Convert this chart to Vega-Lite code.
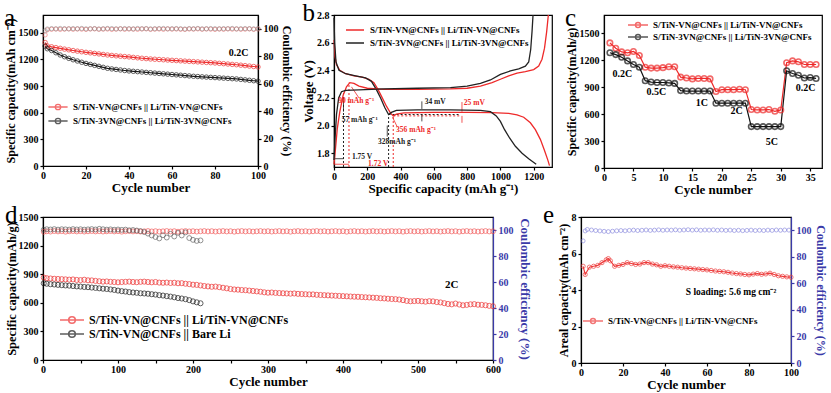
{
"$schema":"https://vega.github.io/schema/vega-lite/v6.json",
"background":"white",
"padding":{"left":3,"top":0,"right":0,"bottom":0},
"config":{
 "font":"Liberation Serif",
 "view":{"stroke":"black","strokeWidth":1.2},
 "axis":{"grid":false,"domainColor":"black","domainWidth":1.2,"tickColor":"black","tickWidth":1.2,"tickSize":3,"labelFont":"Liberation Serif","labelFontWeight":"bold","labelFontSize":10,"labelColor":"black","titleFont":"Liberation Serif","titleFontWeight":"bold","titleFontSize":13,"titleColor":"black","labelOverlap":false,"labelFlush":false},
 "axisX":{"labelPadding":1,"titlePadding":1},
 "axisY":{"labelPadding":2,"titlePadding":1},
 "legend":{"labelFont":"Liberation Serif","labelFontWeight":"bold","labelFontSize":9,"labelColor":"black","orient":"none","symbolFillColor":"white","labelLimit":400,"padding":0},
 "title":{"font":"Liberation Serif","fontSize":25,"fontWeight":"normal","anchor":"start","frame":"bounds","color":"black"}
},
"datasets":{
 "aCap":[
  {"s":"VN","c":1,"v":1390},{"s":"VN","c":2,"v":1352},{"s":"VN","c":4,"v":1342},{"s":"VN","c":6,"v":1333},{"s":"VN","c":8,"v":1325},{"s":"VN","c":10,"v":1316},{"s":"VN","c":12,"v":1308},{"s":"VN","c":14,"v":1300},{"s":"VN","c":16,"v":1293},{"s":"VN","c":18,"v":1286},{"s":"VN","c":20,"v":1280},{"s":"VN","c":22,"v":1274},{"s":"VN","c":24,"v":1268},{"s":"VN","c":26,"v":1262},{"s":"VN","c":28,"v":1256},{"s":"VN","c":30,"v":1250},{"s":"VN","c":32,"v":1245},{"s":"VN","c":34,"v":1240},{"s":"VN","c":36,"v":1236},{"s":"VN","c":38,"v":1232},{"s":"VN","c":40,"v":1228},{"s":"VN","c":42,"v":1223},{"s":"VN","c":44,"v":1218},{"s":"VN","c":46,"v":1213},{"s":"VN","c":48,"v":1209},{"s":"VN","c":50,"v":1205},{"s":"VN","c":52,"v":1202},{"s":"VN","c":54,"v":1199},{"s":"VN","c":56,"v":1196},{"s":"VN","c":58,"v":1193},{"s":"VN","c":60,"v":1190},{"s":"VN","c":62,"v":1187},{"s":"VN","c":64,"v":1184},{"s":"VN","c":66,"v":1181},{"s":"VN","c":68,"v":1178},{"s":"VN","c":70,"v":1175},{"s":"VN","c":72,"v":1172},{"s":"VN","c":74,"v":1169},{"s":"VN","c":76,"v":1166},{"s":"VN","c":78,"v":1163},{"s":"VN","c":80,"v":1160},{"s":"VN","c":82,"v":1156},{"s":"VN","c":84,"v":1152},{"s":"VN","c":86,"v":1148},{"s":"VN","c":88,"v":1144},{"s":"VN","c":90,"v":1140},{"s":"VN","c":92,"v":1135},{"s":"VN","c":94,"v":1130},{"s":"VN","c":96,"v":1125},{"s":"VN","c":98,"v":1120},{"s":"VN","c":100,"v":1115},
  {"s":"3VN","c":1,"v":1350},{"s":"3VN","c":2,"v":1320},{"s":"3VN","c":4,"v":1300},{"s":"3VN","c":6,"v":1275},{"s":"3VN","c":8,"v":1250},{"s":"3VN","c":10,"v":1230},{"s":"3VN","c":12,"v":1212},{"s":"3VN","c":14,"v":1196},{"s":"3VN","c":16,"v":1182},{"s":"3VN","c":18,"v":1168},{"s":"3VN","c":20,"v":1155},{"s":"3VN","c":22,"v":1144},{"s":"3VN","c":24,"v":1133},{"s":"3VN","c":26,"v":1122},{"s":"3VN","c":28,"v":1111},{"s":"3VN","c":30,"v":1100},{"s":"3VN","c":32,"v":1093},{"s":"3VN","c":34,"v":1087},{"s":"3VN","c":36,"v":1081},{"s":"3VN","c":38,"v":1075},{"s":"3VN","c":40,"v":1070},{"s":"3VN","c":42,"v":1066},{"s":"3VN","c":44,"v":1062},{"s":"3VN","c":46,"v":1058},{"s":"3VN","c":48,"v":1054},{"s":"3VN","c":50,"v":1050},{"s":"3VN","c":52,"v":1046},{"s":"3VN","c":54,"v":1042},{"s":"3VN","c":56,"v":1038},{"s":"3VN","c":58,"v":1034},{"s":"3VN","c":60,"v":1030},{"s":"3VN","c":62,"v":1026},{"s":"3VN","c":64,"v":1022},{"s":"3VN","c":66,"v":1018},{"s":"3VN","c":68,"v":1014},{"s":"3VN","c":70,"v":1010},{"s":"3VN","c":72,"v":1007},{"s":"3VN","c":74,"v":1004},{"s":"3VN","c":76,"v":1001},{"s":"3VN","c":78,"v":998},{"s":"3VN","c":80,"v":995},{"s":"3VN","c":82,"v":992},{"s":"3VN","c":84,"v":989},{"s":"3VN","c":86,"v":986},{"s":"3VN","c":88,"v":983},{"s":"3VN","c":90,"v":980},{"s":"3VN","c":92,"v":975},{"s":"3VN","c":94,"v":970},{"s":"3VN","c":96,"v":965},{"s":"3VN","c":98,"v":960},{"s":"3VN","c":100,"v":955}
 ],
 "aCE":[
  {"s":"VN","c":1,"v":95.5},{"s":"VN","c":2,"v":99.2},{"s":"VN","c":4,"v":99.6},{"s":"VN","c":6,"v":99.8},{"s":"VN","c":8,"v":99.5},{"s":"VN","c":10,"v":99.7},{"s":"VN","c":12,"v":99.9},{"s":"VN","c":14,"v":99.6},{"s":"VN","c":16,"v":99.8},{"s":"VN","c":18,"v":99.7},{"s":"VN","c":20,"v":99.5},{"s":"VN","c":22,"v":99.8},{"s":"VN","c":24,"v":99.9},{"s":"VN","c":26,"v":99.6},{"s":"VN","c":28,"v":99.7},{"s":"VN","c":30,"v":99.8},{"s":"VN","c":32,"v":99.5},{"s":"VN","c":34,"v":99.7},{"s":"VN","c":36,"v":99.9},{"s":"VN","c":38,"v":99.6},{"s":"VN","c":40,"v":99.8},{"s":"VN","c":42,"v":99.7},{"s":"VN","c":44,"v":99.6},{"s":"VN","c":46,"v":99.8},{"s":"VN","c":48,"v":99.9},{"s":"VN","c":50,"v":99.5},{"s":"VN","c":52,"v":99.7},{"s":"VN","c":54,"v":99.8},{"s":"VN","c":56,"v":99.6},{"s":"VN","c":58,"v":99.9},{"s":"VN","c":60,"v":99.7},{"s":"VN","c":62,"v":99.8},{"s":"VN","c":64,"v":99.6},{"s":"VN","c":66,"v":99.5},{"s":"VN","c":68,"v":99.8},{"s":"VN","c":70,"v":99.7},{"s":"VN","c":72,"v":99.9},{"s":"VN","c":74,"v":99.6},{"s":"VN","c":76,"v":99.8},{"s":"VN","c":78,"v":99.7},{"s":"VN","c":80,"v":99.5},{"s":"VN","c":82,"v":99.8},{"s":"VN","c":84,"v":99.6},{"s":"VN","c":86,"v":99.9},{"s":"VN","c":88,"v":99.7},{"s":"VN","c":90,"v":99.8},{"s":"VN","c":92,"v":99.6},{"s":"VN","c":94,"v":99.7},{"s":"VN","c":96,"v":99.9},{"s":"VN","c":98,"v":99.5},{"s":"VN","c":100,"v":99.8},
  {"s":"3VN","c":1,"v":98.5},{"s":"3VN","c":2,"v":99.8},{"s":"3VN","c":4,"v":100.1},{"s":"3VN","c":6,"v":99.9},{"s":"3VN","c":8,"v":100.2},{"s":"3VN","c":10,"v":100.0},{"s":"3VN","c":12,"v":99.9},{"s":"3VN","c":14,"v":100.1},{"s":"3VN","c":16,"v":100.0},{"s":"3VN","c":18,"v":100.2},{"s":"3VN","c":20,"v":99.9},{"s":"3VN","c":22,"v":100.0},{"s":"3VN","c":24,"v":100.1},{"s":"3VN","c":26,"v":99.8},{"s":"3VN","c":28,"v":100.0},{"s":"3VN","c":30,"v":100.2},{"s":"3VN","c":32,"v":100.1},{"s":"3VN","c":34,"v":99.9},{"s":"3VN","c":36,"v":100.0},{"s":"3VN","c":38,"v":100.1},{"s":"3VN","c":40,"v":100.0},{"s":"3VN","c":42,"v":99.9},{"s":"3VN","c":44,"v":100.2},{"s":"3VN","c":46,"v":100.0},{"s":"3VN","c":48,"v":100.1},{"s":"3VN","c":50,"v":99.9},{"s":"3VN","c":52,"v":100.0},{"s":"3VN","c":54,"v":100.1},{"s":"3VN","c":56,"v":100.2},{"s":"3VN","c":58,"v":99.9},{"s":"3VN","c":60,"v":100.0},{"s":"3VN","c":62,"v":100.1},{"s":"3VN","c":64,"v":100.0},{"s":"3VN","c":66,"v":99.8},{"s":"3VN","c":68,"v":100.1},{"s":"3VN","c":70,"v":100.0},{"s":"3VN","c":72,"v":100.2},{"s":"3VN","c":74,"v":99.9},{"s":"3VN","c":76,"v":100.0},{"s":"3VN","c":78,"v":100.1},{"s":"3VN","c":80,"v":100.0},{"s":"3VN","c":82,"v":99.9},{"s":"3VN","c":84,"v":100.1},{"s":"3VN","c":86,"v":100.0},{"s":"3VN","c":88,"v":100.2},{"s":"3VN","c":90,"v":99.9},{"s":"3VN","c":92,"v":100.0},{"s":"3VN","c":94,"v":100.1},{"s":"3VN","c":96,"v":100.0},{"s":"3VN","c":98,"v":99.9},{"s":"3VN","c":100,"v":100.1}
 ],
 "aText":[{"c":91,"v":1272,"t":"0.2C"}],
 "bCurve":[
  {"s":"VN","d":"dis","x":0,"y":2.62},{"s":"VN","d":"dis","x":6,"y":2.5},{"s":"VN","d":"dis","x":15,"y":2.44},{"s":"VN","d":"dis","x":35,"y":2.4},{"s":"VN","d":"dis","x":70,"y":2.375},{"s":"VN","d":"dis","x":120,"y":2.36},{"s":"VN","d":"dis","x":170,"y":2.35},{"s":"VN","d":"dis","x":210,"y":2.335},{"s":"VN","d":"dis","x":240,"y":2.31},{"s":"VN","d":"dis","x":265,"y":2.26},{"s":"VN","d":"dis","x":290,"y":2.2},{"s":"VN","d":"dis","x":315,"y":2.14},{"s":"VN","d":"dis","x":340,"y":2.09},{"s":"VN","d":"dis","x":356,"y":2.07},{"s":"VN","d":"dis","x":375,"y":2.082},{"s":"VN","d":"dis","x":420,"y":2.092},{"s":"VN","d":"dis","x":600,"y":2.095},{"s":"VN","d":"dis","x":800,"y":2.095},{"s":"VN","d":"dis","x":950,"y":2.093},{"s":"VN","d":"dis","x":1050,"y":2.088},{"s":"VN","d":"dis","x":1100,"y":2.078},{"s":"VN","d":"dis","x":1140,"y":2.06},{"s":"VN","d":"dis","x":1180,"y":2.02},{"s":"VN","d":"dis","x":1210,"y":1.97},{"s":"VN","d":"dis","x":1240,"y":1.9},{"s":"VN","d":"dis","x":1265,"y":1.82},{"s":"VN","d":"dis","x":1285,"y":1.75},{"s":"VN","d":"dis","x":1295,"y":1.71},
  {"s":"3VN","d":"dis","x":0,"y":2.78},{"s":"3VN","d":"dis","x":4,"y":2.6},{"s":"3VN","d":"dis","x":12,"y":2.46},{"s":"3VN","d":"dis","x":30,"y":2.4},{"s":"3VN","d":"dis","x":70,"y":2.375},{"s":"3VN","d":"dis","x":130,"y":2.36},{"s":"3VN","d":"dis","x":190,"y":2.345},{"s":"3VN","d":"dis","x":225,"y":2.32},{"s":"3VN","d":"dis","x":255,"y":2.26},{"s":"3VN","d":"dis","x":280,"y":2.2},{"s":"3VN","d":"dis","x":305,"y":2.13},{"s":"3VN","d":"dis","x":328,"y":2.08},{"s":"3VN","d":"dis","x":345,"y":2.095},{"s":"3VN","d":"dis","x":375,"y":2.11},{"s":"3VN","d":"dis","x":500,"y":2.114},{"s":"3VN","d":"dis","x":700,"y":2.114},{"s":"3VN","d":"dis","x":880,"y":2.11},{"s":"3VN","d":"dis","x":940,"y":2.1},{"s":"3VN","d":"dis","x":975,"y":2.07},{"s":"3VN","d":"dis","x":1000,"y":2.03},{"s":"3VN","d":"dis","x":1025,"y":1.97},{"s":"3VN","d":"dis","x":1055,"y":1.91},{"s":"3VN","d":"dis","x":1090,"y":1.85},{"s":"3VN","d":"dis","x":1130,"y":1.8},{"s":"3VN","d":"dis","x":1170,"y":1.76},{"s":"3VN","d":"dis","x":1215,"y":1.72},
  {"s":"VN","d":"ch","x":0,"y":1.72},{"s":"VN","d":"ch","x":8,"y":1.82},{"s":"VN","d":"ch","x":20,"y":1.98},{"s":"VN","d":"ch","x":35,"y":2.1},{"s":"VN","d":"ch","x":55,"y":2.22},{"s":"VN","d":"ch","x":75,"y":2.28},{"s":"VN","d":"ch","x":95,"y":2.31},{"s":"VN","d":"ch","x":120,"y":2.305},{"s":"VN","d":"ch","x":150,"y":2.285},{"s":"VN","d":"ch","x":200,"y":2.27},{"s":"VN","d":"ch","x":300,"y":2.262},{"s":"VN","d":"ch","x":500,"y":2.262},{"s":"VN","d":"ch","x":700,"y":2.265},{"s":"VN","d":"ch","x":800,"y":2.27},{"s":"VN","d":"ch","x":880,"y":2.285},{"s":"VN","d":"ch","x":950,"y":2.31},{"s":"VN","d":"ch","x":1000,"y":2.335},{"s":"VN","d":"ch","x":1050,"y":2.36},{"s":"VN","d":"ch","x":1100,"y":2.38},{"s":"VN","d":"ch","x":1150,"y":2.39},{"s":"VN","d":"ch","x":1200,"y":2.405},{"s":"VN","d":"ch","x":1230,"y":2.43},{"s":"VN","d":"ch","x":1250,"y":2.48},{"s":"VN","d":"ch","x":1265,"y":2.56},{"s":"VN","d":"ch","x":1278,"y":2.68},{"s":"VN","d":"ch","x":1288,"y":2.8},
  {"s":"3VN","d":"ch","x":0,"y":1.75},{"s":"3VN","d":"ch","x":6,"y":1.9},{"s":"3VN","d":"ch","x":15,"y":2.08},{"s":"3VN","d":"ch","x":28,"y":2.2},{"s":"3VN","d":"ch","x":45,"y":2.245},{"s":"3VN","d":"ch","x":70,"y":2.255},{"s":"3VN","d":"ch","x":150,"y":2.258},{"s":"3VN","d":"ch","x":300,"y":2.265},{"s":"3VN","d":"ch","x":500,"y":2.27},{"s":"3VN","d":"ch","x":700,"y":2.275},{"s":"3VN","d":"ch","x":800,"y":2.285},{"s":"3VN","d":"ch","x":880,"y":2.305},{"s":"3VN","d":"ch","x":940,"y":2.33},{"s":"3VN","d":"ch","x":1000,"y":2.37},{"s":"3VN","d":"ch","x":1060,"y":2.395},{"s":"3VN","d":"ch","x":1110,"y":2.41},{"s":"3VN","d":"ch","x":1150,"y":2.43},{"s":"3VN","d":"ch","x":1170,"y":2.46},{"s":"3VN","d":"ch","x":1182,"y":2.55},{"s":"3VN","d":"ch","x":1190,"y":2.68},{"s":"3VN","d":"ch","x":1196,"y":2.8}
 ],
 "bDot":[
  {"s":"3VN","x":57,"x2":57,"y":1.7,"y2":2.25},
  {"s":"VN","x":90,"x2":90,"y":1.7,"y2":2.31},
  {"s":"3VN","x":328,"x2":328,"y":1.7,"y2":2.08},
  {"s":"VN","x":356,"x2":356,"y":1.7,"y2":2.07},
  {"s":"3VN","x":328,"x2":760,"y":2.08,"y2":2.08},
  {"s":"VN","x":356,"x2":760,"y":2.07,"y2":2.07}
 ],
 "bArrow":[
  {"s":"3VN","x":0,"x2":57,"y":1.76,"y2":1.76},
  {"s":"VN","x":0,"x2":90,"y":1.72,"y2":1.72},
  {"s":"3VN","x":528,"x2":528,"y":2.175,"y2":2.12},
  {"s":"3VN","x":528,"x2":528,"y":2.03,"y2":2.08},
  {"s":"VN","x":769,"x2":769,"y":2.17,"y2":2.1},
  {"s":"VN","x":769,"x2":769,"y":2.02,"y2":2.07},
  {"s":"VN","x":150,"x2":105,"y":2.2,"y2":2.28},
  {"s":"VN","x":380,"x2":352,"y":1.99,"y2":2.06},
  {"s":"3VN","x":57,"x2":57,"y":2.2,"y2":2.1},
  {"s":"3VN","x":320,"x2":320,"y":2.0,"y2":1.92}
 ],
 "bText":[
  {"s":"VN","x":25,"y":2.176,"t":"90 mAh g⁻¹"},
  {"s":"3VN","x":46,"y":2.04,"t":"57 mAh g⁻¹"},
  {"s":"3VN","x":545,"y":2.167,"t":"34 mV"},
  {"s":"VN","x":780,"y":2.16,"t":"25 mV"},
  {"s":"VN","x":373,"y":1.97,"t":"356 mAh g⁻¹"},
  {"s":"3VN","x":265,"y":1.88,"t":"328mAh g⁻¹"},
  {"s":"3VN","x":108,"y":1.77,"t":"1.75 V"},
  {"s":"VN","x":205,"y":1.72,"t":"1.72 V"}
 ],
 "cData":[
  {"s":"VN","c":1,"v":1390},{"s":"VN","c":2,"v":1330},{"s":"VN","c":3,"v":1290},{"s":"VN","c":4,"v":1280},{"s":"VN","c":5,"v":1295},{"s":"VN","c":6,"v":1250},{"s":"VN","c":7,"v":1120},{"s":"VN","c":8,"v":1110},{"s":"VN","c":9,"v":1110},{"s":"VN","c":10,"v":1115},{"s":"VN","c":11,"v":1125},{"s":"VN","c":12,"v":1125},{"s":"VN","c":13,"v":1010},{"s":"VN","c":14,"v":1000},{"s":"VN","c":15,"v":990},{"s":"VN","c":16,"v":995},{"s":"VN","c":17,"v":995},{"s":"VN","c":18,"v":990},{"s":"VN","c":19,"v":850},{"s":"VN","c":20,"v":870},{"s":"VN","c":21,"v":870},{"s":"VN","c":22,"v":870},{"s":"VN","c":23,"v":875},{"s":"VN","c":24,"v":870},{"s":"VN","c":25,"v":650},{"s":"VN","c":26,"v":645},{"s":"VN","c":27,"v":645},{"s":"VN","c":28,"v":650},{"s":"VN","c":29,"v":630},{"s":"VN","c":30,"v":645},{"s":"VN","c":31,"v":1170},{"s":"VN","c":32,"v":1190},{"s":"VN","c":33,"v":1180},{"s":"VN","c":34,"v":1150},{"s":"VN","c":35,"v":1150},{"s":"VN","c":36,"v":1150},
  {"s":"3VN","c":1,"v":1280},{"s":"3VN","c":2,"v":1260},{"s":"3VN","c":3,"v":1230},{"s":"3VN","c":4,"v":1190},{"s":"3VN","c":5,"v":1150},{"s":"3VN","c":6,"v":1120},{"s":"3VN","c":7,"v":970},{"s":"3VN","c":8,"v":955},{"s":"3VN","c":9,"v":950},{"s":"3VN","c":10,"v":950},{"s":"3VN","c":11,"v":945},{"s":"3VN","c":12,"v":940},{"s":"3VN","c":13,"v":860},{"s":"3VN","c":14,"v":855},{"s":"3VN","c":15,"v":855},{"s":"3VN","c":16,"v":855},{"s":"3VN","c":17,"v":855},{"s":"3VN","c":18,"v":855},{"s":"3VN","c":19,"v":720},{"s":"3VN","c":20,"v":720},{"s":"3VN","c":21,"v":720},{"s":"3VN","c":22,"v":720},{"s":"3VN","c":23,"v":720},{"s":"3VN","c":24,"v":720},{"s":"3VN","c":25,"v":460},{"s":"3VN","c":26,"v":460},{"s":"3VN","c":27,"v":460},{"s":"3VN","c":28,"v":460},{"s":"3VN","c":29,"v":460},{"s":"3VN","c":30,"v":460},{"s":"3VN","c":31,"v":1080},{"s":"3VN","c":32,"v":1050},{"s":"3VN","c":33,"v":1030},{"s":"3VN","c":34,"v":1000},{"s":"3VN","c":35,"v":1005},{"s":"3VN","c":36,"v":995}
 ],
 "cText":[{"c":3.1,"v":1050,"t":"0.2C"},{"c":8.9,"v":845,"t":"0.5C"},{"c":16.6,"v":720,"t":"1C"},{"c":22.5,"v":633,"t":"2C"},{"c":28.5,"v":290,"t":"5C"},{"c":34.2,"v":890,"t":"0.2C"}],
 "dCap":[
  {"s":"VN","c":1,"v":865},{"s":"VN","c":5,"v":858},{"s":"VN","c":10,"v":855},{"s":"VN","c":15,"v":852},{"s":"VN","c":20,"v":850},{"s":"VN","c":25,"v":848},{"s":"VN","c":30,"v":846},{"s":"VN","c":35,"v":843},{"s":"VN","c":40,"v":845},{"s":"VN","c":45,"v":840},{"s":"VN","c":50,"v":838},{"s":"VN","c":55,"v":842},{"s":"VN","c":60,"v":836},{"s":"VN","c":65,"v":835},{"s":"VN","c":70,"v":830},{"s":"VN","c":75,"v":826},{"s":"VN","c":80,"v":822},{"s":"VN","c":85,"v":824},{"s":"VN","c":90,"v":820},{"s":"VN","c":95,"v":818},{"s":"VN","c":100,"v":815},{"s":"VN","c":105,"v":818},{"s":"VN","c":110,"v":820},{"s":"VN","c":115,"v":822},{"s":"VN","c":120,"v":818},{"s":"VN","c":125,"v":816},{"s":"VN","c":130,"v":820},{"s":"VN","c":135,"v":822},{"s":"VN","c":140,"v":818},{"s":"VN","c":145,"v":815},{"s":"VN","c":150,"v":818},{"s":"VN","c":155,"v":812},{"s":"VN","c":160,"v":810},{"s":"VN","c":165,"v":812},{"s":"VN","c":170,"v":808},{"s":"VN","c":175,"v":810},{"s":"VN","c":180,"v":805},{"s":"VN","c":185,"v":806},{"s":"VN","c":190,"v":800},{"s":"VN","c":195,"v":796},{"s":"VN","c":200,"v":790},{"s":"VN","c":205,"v":788},{"s":"VN","c":210,"v":782},{"s":"VN","c":215,"v":776},{"s":"VN","c":220,"v":772},{"s":"VN","c":225,"v":768},{"s":"VN","c":230,"v":770},{"s":"VN","c":235,"v":764},{"s":"VN","c":240,"v":758},{"s":"VN","c":245,"v":752},{"s":"VN","c":250,"v":745},{"s":"VN","c":255,"v":740},{"s":"VN","c":260,"v":738},{"s":"VN","c":265,"v":734},{"s":"VN","c":270,"v":732},{"s":"VN","c":275,"v":728},{"s":"VN","c":280,"v":724},{"s":"VN","c":285,"v":720},{"s":"VN","c":290,"v":716},{"s":"VN","c":295,"v":710},{"s":"VN","c":300,"v":706},{"s":"VN","c":305,"v":708},{"s":"VN","c":310,"v":704},{"s":"VN","c":315,"v":702},{"s":"VN","c":320,"v":700},{"s":"VN","c":325,"v":698},{"s":"VN","c":330,"v":696},{"s":"VN","c":335,"v":698},{"s":"VN","c":340,"v":694},{"s":"VN","c":345,"v":692},{"s":"VN","c":350,"v":690},{"s":"VN","c":355,"v":688},{"s":"VN","c":360,"v":688},{"s":"VN","c":365,"v":684},{"s":"VN","c":370,"v":682},{"s":"VN","c":375,"v":680},{"s":"VN","c":380,"v":678},{"s":"VN","c":385,"v":676},{"s":"VN","c":390,"v":674},{"s":"VN","c":395,"v":672},{"s":"VN","c":400,"v":670},{"s":"VN","c":405,"v":668},{"s":"VN","c":410,"v":666},{"s":"VN","c":415,"v":664},{"s":"VN","c":420,"v":663},{"s":"VN","c":425,"v":660},{"s":"VN","c":430,"v":658},{"s":"VN","c":435,"v":656},{"s":"VN","c":440,"v":654},{"s":"VN","c":445,"v":652},{"s":"VN","c":450,"v":648},{"s":"VN","c":455,"v":646},{"s":"VN","c":460,"v":643},{"s":"VN","c":465,"v":640},{"s":"VN","c":470,"v":638},{"s":"VN","c":475,"v":634},{"s":"VN","c":480,"v":628},{"s":"VN","c":485,"v":620},{"s":"VN","c":490,"v":616},{"s":"VN","c":495,"v":618},{"s":"VN","c":500,"v":620},{"s":"VN","c":505,"v":616},{"s":"VN","c":510,"v":612},{"s":"VN","c":515,"v":617},{"s":"VN","c":520,"v":615},{"s":"VN","c":525,"v":608},{"s":"VN","c":530,"v":604},{"s":"VN","c":535,"v":596},{"s":"VN","c":540,"v":588},{"s":"VN","c":545,"v":584},{"s":"VN","c":550,"v":592},{"s":"VN","c":555,"v":582},{"s":"VN","c":560,"v":574},{"s":"VN","c":565,"v":578},{"s":"VN","c":570,"v":584},{"s":"VN","c":575,"v":586},{"s":"VN","c":580,"v":580},{"s":"VN","c":585,"v":578},{"s":"VN","c":590,"v":574},{"s":"VN","c":595,"v":568},{"s":"VN","c":600,"v":564},
  {"s":"Bare","c":1,"v":805},{"s":"Bare","c":5,"v":800},{"s":"Bare","c":10,"v":795},{"s":"Bare","c":15,"v":792},{"s":"Bare","c":20,"v":788},{"s":"Bare","c":25,"v":785},{"s":"Bare","c":30,"v":782},{"s":"Bare","c":35,"v":780},{"s":"Bare","c":40,"v":776},{"s":"Bare","c":45,"v":772},{"s":"Bare","c":50,"v":770},{"s":"Bare","c":55,"v":766},{"s":"Bare","c":60,"v":764},{"s":"Bare","c":65,"v":760},{"s":"Bare","c":70,"v":756},{"s":"Bare","c":75,"v":752},{"s":"Bare","c":80,"v":748},{"s":"Bare","c":85,"v":745},{"s":"Bare","c":90,"v":740},{"s":"Bare","c":95,"v":735},{"s":"Bare","c":100,"v":728},{"s":"Bare","c":105,"v":722},{"s":"Bare","c":110,"v":718},{"s":"Bare","c":115,"v":712},{"s":"Bare","c":120,"v":708},{"s":"Bare","c":125,"v":705},{"s":"Bare","c":130,"v":700},{"s":"Bare","c":135,"v":698},{"s":"Bare","c":140,"v":695},{"s":"Bare","c":145,"v":690},{"s":"Bare","c":150,"v":686},{"s":"Bare","c":155,"v":680},{"s":"Bare","c":160,"v":676},{"s":"Bare","c":165,"v":670},{"s":"Bare","c":170,"v":665},{"s":"Bare","c":175,"v":658},{"s":"Bare","c":180,"v":650},{"s":"Bare","c":185,"v":645},{"s":"Bare","c":190,"v":638},{"s":"Bare","c":195,"v":628},{"s":"Bare","c":200,"v":615},{"s":"Bare","c":205,"v":605},{"s":"Bare","c":210,"v":595}
 ],
 "dCE":[
  {"s":"VN","c":1,"v":98.6},{"s":"VN","c":5,"v":99.0},{"s":"VN","c":10,"v":98.8},{"s":"VN","c":15,"v":99.2},{"s":"VN","c":20,"v":98.9},{"s":"VN","c":25,"v":99.1},{"s":"VN","c":30,"v":98.7},{"s":"VN","c":35,"v":99.0},{"s":"VN","c":40,"v":99.2},{"s":"VN","c":45,"v":98.9},{"s":"VN","c":50,"v":99.1},{"s":"VN","c":55,"v":98.8},{"s":"VN","c":60,"v":99.0},{"s":"VN","c":65,"v":99.2},{"s":"VN","c":70,"v":98.9},{"s":"VN","c":75,"v":99.1},{"s":"VN","c":80,"v":98.8},{"s":"VN","c":85,"v":99.0},{"s":"VN","c":90,"v":99.2},{"s":"VN","c":95,"v":98.9},{"s":"VN","c":100,"v":99.1},{"s":"VN","c":105,"v":98.7},{"s":"VN","c":110,"v":99.0},{"s":"VN","c":115,"v":99.2},{"s":"VN","c":120,"v":98.9},{"s":"VN","c":125,"v":99.1},{"s":"VN","c":130,"v":98.8},{"s":"VN","c":135,"v":99.0},{"s":"VN","c":140,"v":99.2},{"s":"VN","c":145,"v":98.9},{"s":"VN","c":150,"v":99.1},{"s":"VN","c":155,"v":98.8},{"s":"VN","c":160,"v":99.0},{"s":"VN","c":165,"v":99.2},{"s":"VN","c":170,"v":98.9},{"s":"VN","c":175,"v":99.1},{"s":"VN","c":180,"v":98.7},{"s":"VN","c":185,"v":99.0},{"s":"VN","c":190,"v":99.2},{"s":"VN","c":195,"v":98.9},{"s":"VN","c":200,"v":99.1},{"s":"VN","c":205,"v":98.8},{"s":"VN","c":210,"v":99.0},{"s":"VN","c":215,"v":99.2},{"s":"VN","c":220,"v":98.9},{"s":"VN","c":225,"v":99.1},{"s":"VN","c":230,"v":98.8},{"s":"VN","c":235,"v":99.0},{"s":"VN","c":240,"v":99.2},{"s":"VN","c":245,"v":98.9},{"s":"VN","c":250,"v":99.1},{"s":"VN","c":255,"v":98.7},{"s":"VN","c":260,"v":99.0},{"s":"VN","c":265,"v":99.2},{"s":"VN","c":270,"v":98.9},{"s":"VN","c":275,"v":99.1},{"s":"VN","c":280,"v":98.8},{"s":"VN","c":285,"v":99.0},{"s":"VN","c":290,"v":99.2},{"s":"VN","c":295,"v":98.9},{"s":"VN","c":300,"v":99.1},{"s":"VN","c":305,"v":98.8},{"s":"VN","c":310,"v":99.0},{"s":"VN","c":315,"v":99.2},{"s":"VN","c":320,"v":98.9},{"s":"VN","c":325,"v":99.1},{"s":"VN","c":330,"v":98.7},{"s":"VN","c":335,"v":99.0},{"s":"VN","c":340,"v":99.2},{"s":"VN","c":345,"v":98.9},{"s":"VN","c":350,"v":99.1},{"s":"VN","c":355,"v":98.8},{"s":"VN","c":360,"v":99.0},{"s":"VN","c":365,"v":99.2},{"s":"VN","c":370,"v":98.9},{"s":"VN","c":375,"v":99.1},{"s":"VN","c":380,"v":98.8},{"s":"VN","c":385,"v":99.0},{"s":"VN","c":390,"v":99.2},{"s":"VN","c":395,"v":98.9},{"s":"VN","c":400,"v":99.1},{"s":"VN","c":405,"v":98.7},{"s":"VN","c":410,"v":99.0},{"s":"VN","c":415,"v":99.2},{"s":"VN","c":420,"v":98.9},{"s":"VN","c":425,"v":99.1},{"s":"VN","c":430,"v":98.8},{"s":"VN","c":435,"v":99.0},{"s":"VN","c":440,"v":99.2},{"s":"VN","c":445,"v":98.9},{"s":"VN","c":450,"v":99.1},{"s":"VN","c":455,"v":98.8},{"s":"VN","c":460,"v":99.0},{"s":"VN","c":465,"v":99.2},{"s":"VN","c":470,"v":98.9},{"s":"VN","c":475,"v":99.1},{"s":"VN","c":480,"v":98.7},{"s":"VN","c":485,"v":99.0},{"s":"VN","c":490,"v":99.2},{"s":"VN","c":495,"v":98.9},{"s":"VN","c":500,"v":99.1},{"s":"VN","c":505,"v":98.8},{"s":"VN","c":510,"v":99.0},{"s":"VN","c":515,"v":99.2},{"s":"VN","c":520,"v":98.9},{"s":"VN","c":525,"v":99.1},{"s":"VN","c":530,"v":98.8},{"s":"VN","c":535,"v":99.0},{"s":"VN","c":540,"v":99.2},{"s":"VN","c":545,"v":98.9},{"s":"VN","c":550,"v":99.1},{"s":"VN","c":555,"v":98.7},{"s":"VN","c":560,"v":99.0},{"s":"VN","c":565,"v":99.2},{"s":"VN","c":570,"v":98.9},{"s":"VN","c":575,"v":99.1},{"s":"VN","c":580,"v":98.8},{"s":"VN","c":585,"v":99.0},{"s":"VN","c":590,"v":99.2},{"s":"VN","c":595,"v":98.9},{"s":"VN","c":600,"v":99.0},
  {"s":"Bare","c":1,"v":100.2},{"s":"Bare","c":5,"v":100.6},{"s":"Bare","c":10,"v":100.4},{"s":"Bare","c":15,"v":100.7},{"s":"Bare","c":20,"v":100.3},{"s":"Bare","c":25,"v":100.6},{"s":"Bare","c":30,"v":100.5},{"s":"Bare","c":35,"v":100.3},{"s":"Bare","c":40,"v":100.7},{"s":"Bare","c":45,"v":100.4},{"s":"Bare","c":50,"v":100.6},{"s":"Bare","c":55,"v":100.3},{"s":"Bare","c":60,"v":100.5},{"s":"Bare","c":65,"v":100.7},{"s":"Bare","c":70,"v":100.4},{"s":"Bare","c":75,"v":100.9},{"s":"Bare","c":80,"v":100.6},{"s":"Bare","c":85,"v":100.3},{"s":"Bare","c":90,"v":100.5},{"s":"Bare","c":95,"v":100.2},{"s":"Bare","c":100,"v":100.4},{"s":"Bare","c":105,"v":100.1},{"s":"Bare","c":110,"v":100.3},{"s":"Bare","c":115,"v":99.8},{"s":"Bare","c":120,"v":100.0},{"s":"Bare","c":125,"v":99.6},{"s":"Bare","c":130,"v":99.2},{"s":"Bare","c":135,"v":98.4},{"s":"Bare","c":140,"v":97.2},{"s":"Bare","c":145,"v":95.8},{"s":"Bare","c":150,"v":94.6},{"s":"Bare","c":155,"v":93.5},{"s":"Bare","c":160,"v":96.0},{"s":"Bare","c":165,"v":94.2},{"s":"Bare","c":170,"v":97.0},{"s":"Bare","c":175,"v":95.0},{"s":"Bare","c":180,"v":97.8},{"s":"Bare","c":185,"v":95.8},{"s":"Bare","c":190,"v":98.2},{"s":"Bare","c":195,"v":93.8},{"s":"Bare","c":200,"v":92.4},{"s":"Bare","c":205,"v":91.6},{"s":"Bare","c":210,"v":92.0}
 ],
 "dText":[{"c":545,"v":790,"t":"2C"}],
 "eCap":[
  {"s":"VN","c":1,"v":5.3},{"s":"VN","c":2,"v":4.85},{"s":"VN","c":4,"v":5.25},{"s":"VN","c":6,"v":5.3},{"s":"VN","c":8,"v":5.35},{"s":"VN","c":10,"v":5.5},{"s":"VN","c":12,"v":5.65},{"s":"VN","c":13,"v":5.72},{"s":"VN","c":14,"v":5.6},{"s":"VN","c":16,"v":5.3},{"s":"VN","c":18,"v":5.35},{"s":"VN","c":20,"v":5.4},{"s":"VN","c":22,"v":5.5},{"s":"VN","c":24,"v":5.45},{"s":"VN","c":26,"v":5.4},{"s":"VN","c":28,"v":5.42},{"s":"VN","c":30,"v":5.5},{"s":"VN","c":32,"v":5.5},{"s":"VN","c":34,"v":5.42},{"s":"VN","c":36,"v":5.38},{"s":"VN","c":38,"v":5.3},{"s":"VN","c":40,"v":5.33},{"s":"VN","c":42,"v":5.3},{"s":"VN","c":44,"v":5.27},{"s":"VN","c":46,"v":5.25},{"s":"VN","c":48,"v":5.22},{"s":"VN","c":50,"v":5.2},{"s":"VN","c":52,"v":5.18},{"s":"VN","c":54,"v":5.16},{"s":"VN","c":56,"v":5.14},{"s":"VN","c":58,"v":5.12},{"s":"VN","c":60,"v":5.1},{"s":"VN","c":62,"v":5.07},{"s":"VN","c":64,"v":5.04},{"s":"VN","c":66,"v":5.02},{"s":"VN","c":68,"v":5.0},{"s":"VN","c":70,"v":4.97},{"s":"VN","c":72,"v":4.93},{"s":"VN","c":74,"v":4.9},{"s":"VN","c":76,"v":4.88},{"s":"VN","c":78,"v":4.85},{"s":"VN","c":80,"v":4.83},{"s":"VN","c":82,"v":4.87},{"s":"VN","c":84,"v":4.9},{"s":"VN","c":86,"v":4.86},{"s":"VN","c":88,"v":4.88},{"s":"VN","c":90,"v":4.92},{"s":"VN","c":92,"v":4.85},{"s":"VN","c":94,"v":4.78},{"s":"VN","c":96,"v":4.75},{"s":"VN","c":98,"v":4.72},{"s":"VN","c":100,"v":4.7}
 ],
 "eCE":[
  {"s":"VN","c":1,"v":92.0},{"s":"VN","c":2,"v":99.5},{"s":"VN","c":3,"v":100.6},{"s":"VN","c":5,"v":100.2},{"s":"VN","c":7,"v":99.8},{"s":"VN","c":9,"v":99.5},{"s":"VN","c":11,"v":99.2},{"s":"VN","c":13,"v":99.0},{"s":"VN","c":15,"v":99.3},{"s":"VN","c":17,"v":99.6},{"s":"VN","c":19,"v":99.8},{"s":"VN","c":21,"v":99.6},{"s":"VN","c":23,"v":99.9},{"s":"VN","c":25,"v":100.1},{"s":"VN","c":27,"v":99.8},{"s":"VN","c":29,"v":100.0},{"s":"VN","c":31,"v":100.2},{"s":"VN","c":33,"v":99.9},{"s":"VN","c":35,"v":100.1},{"s":"VN","c":37,"v":100.3},{"s":"VN","c":39,"v":100.0},{"s":"VN","c":41,"v":100.2},{"s":"VN","c":43,"v":100.1},{"s":"VN","c":45,"v":100.3},{"s":"VN","c":47,"v":100.0},{"s":"VN","c":49,"v":100.2},{"s":"VN","c":51,"v":100.4},{"s":"VN","c":53,"v":100.1},{"s":"VN","c":55,"v":100.3},{"s":"VN","c":57,"v":100.0},{"s":"VN","c":59,"v":100.2},{"s":"VN","c":61,"v":100.1},{"s":"VN","c":63,"v":100.3},{"s":"VN","c":65,"v":100.0},{"s":"VN","c":67,"v":100.2},{"s":"VN","c":69,"v":99.9},{"s":"VN","c":71,"v":100.1},{"s":"VN","c":73,"v":99.8},{"s":"VN","c":75,"v":100.0},{"s":"VN","c":77,"v":99.7},{"s":"VN","c":79,"v":99.9},{"s":"VN","c":81,"v":100.1},{"s":"VN","c":83,"v":99.8},{"s":"VN","c":85,"v":100.0},{"s":"VN","c":87,"v":99.8},{"s":"VN","c":89,"v":100.1},{"s":"VN","c":91,"v":99.9},{"s":"VN","c":93,"v":100.2},{"s":"VN","c":95,"v":100.0},{"s":"VN","c":97,"v":100.2},{"s":"VN","c":99,"v":100.1}
 ],
 "eText":[{"c":93,"v":3.91,"t":"S loading: 5.6 mg cm⁻²"}]
},
"vconcat":[
 {"hconcat":[
  {"hconcat":[
   {"width":215,"height":151,
    "title":{"text":"a","offset":-16},
    "layer":[
     {"layer":[
       {"data":{"name":"aCap"},"mark":{"type":"line","strokeWidth":1.2},
        "encoding":{
         "x":{"field":"c","type":"quantitative","scale":{"domain":[0,100],"nice":false},"axis":{"title":"Cycle number","tickCount":20,"format":"d","values":[0,20,40,60,80,100]}},
         "y":{"field":"v","type":"quantitative","scale":{"domain":[0,1700],"nice":false},"axis":{"title":"Specific capacity(mAh cm⁻²)","titleFontSize":12,"format":"d","tickCount":20,"values":[0,300,600,900,1200,1500]}},
         "color":{"field":"s","type":"nominal","scale":{"domain":["VN","3VN"],"range":["#ee3030","#1a1a1a"]},
           "legend":{"title":null,"orient":"none","legendX":8,"legendY":85,"symbolType":"M-1.6,0H1.6M-0.45,0A0.45,0.45,0,1,1,0.45,0A0.45,0.45,0,1,1,-0.45,0","symbolSize":144,"symbolStrokeWidth":1.3,"labelOffset":8,"rowPadding":1,"labelExpr":"datum.value == 'VN' ? 'S/TiN-VN@CNFs || Li/TiN-VN@CNFs' : 'S/TiN-3VN@CNFs || Li/TiN-3VN@CNFs'"}}}},
       {"data":{"name":"aCap"},"mark":{"type":"point","filled":false,"size":20,"strokeWidth":1},
        "encoding":{"x":{"field":"c","type":"quantitative"},"y":{"field":"v","type":"quantitative"},"color":{"field":"s","type":"nominal"}}},
       {"data":{"name":"aText"},"mark":{"type":"text","fontSize":10,"fontWeight":"bold","color":"black"},
        "encoding":{"x":{"field":"c","type":"quantitative"},"y":{"field":"v","type":"quantitative"},"text":{"field":"t"}}}
     ]},
     {"data":{"name":"aCE"},"mark":{"type":"point","filled":false,"size":18,"strokeWidth":0.8},
      "encoding":{"x":{"field":"c","type":"quantitative"},
       "y":{"field":"v","type":"quantitative","scale":{"domain":[0,110],"nice":false},"axis":{"orient":"right","title":"Coulombic efficiency (%)","titleFontSize":12,"titlePadding":1,"format":"d","tickCount":20,"values":[0,20,40,60,80,100]}},
       "stroke":{"field":"s","type":"nominal","scale":{"domain":["VN","3VN"],"range":["#f06060","#8a8a8a"]},"legend":null}}}
    ],
    "resolve":{"scale":{"y":"independent"}}
   },
   {"width":218,"height":152,
    "title":{"text":"b","offset":-16},
    "layer":[
     {"data":{"name":"bDot"},"mark":{"type":"rule","strokeDash":[2,2],"strokeWidth":1},
      "encoding":{"x":{"field":"x","type":"quantitative"},"x2":{"field":"x2"},"y":{"field":"y","type":"quantitative"},"y2":{"field":"y2"},"color":{"field":"s","type":"nominal"}}},
     {"data":{"name":"bArrow"},"mark":{"type":"rule","strokeWidth":0.8},
      "encoding":{"x":{"field":"x","type":"quantitative"},"x2":{"field":"x2"},"y":{"field":"y","type":"quantitative"},"y2":{"field":"y2"},"color":{"field":"s","type":"nominal"}}},
     {"data":{"name":"bCurve"},"mark":{"type":"line","strokeWidth":1.3},
      "encoding":{
       "x":{"field":"x","type":"quantitative","scale":{"domain":[0,1310],"nice":false},"axis":{"title":"Specific capacity (mAh g⁻¹)","format":"d","tickCount":20,"values":[0,200,400,600,800,1000,1200]}},
       "y":{"field":"y","type":"quantitative","scale":{"domain":[1.7,2.8],"nice":false,"zero":false},"axis":{"title":"Voltage (V)","tickCount":20,"values":[1.8,2.0,2.2,2.4,2.6,2.8],"format":".1f"}},
       "detail":{"field":"d"},
       "color":{"field":"s","type":"nominal","scale":{"domain":["VN","3VN"],"range":["#ee2a2a","#222222"]},
         "legend":{"title":null,"orient":"none","legendX":14,"legendY":8,"symbolType":"M-1.5,0H1.5","symbolSize":144,"symbolStrokeWidth":1.5,"labelOffset":8,"rowPadding":1,"labelExpr":"datum.value == 'VN' ? 'S/TiN-VN@CNFs || Li/TiN-VN@CNFs' : 'S/TiN-3VN@CNFs || Li/TiN-3VN@CNFs'"}}}},
     {"data":{"name":"bText"},"mark":{"type":"text","fontSize":7.5,"fontWeight":"bold","align":"left","baseline":"middle"},
      "encoding":{"x":{"field":"x","type":"quantitative"},"y":{"field":"y","type":"quantitative"},"text":{"field":"t"},"color":{"field":"s","type":"nominal"}}}
    ]
   }
  ],"spacing":8,
  "resolve":{"scale":{"color":"independent","stroke":"independent"},"legend":{"color":"independent"}}},
  {"width":218,"height":153,
   "title":{"text":"c","offset":-16},
   "layer":[
    {"data":{"name":"cData"},"mark":{"type":"line","strokeWidth":1.2},
     "encoding":{
      "x":{"field":"c","type":"quantitative","scale":{"domain":[0,37],"nice":false},"axis":{"title":"Cycle number","tickCount":20,"format":"d","values":[0,5,10,15,20,25,30,35]}},
      "y":{"field":"v","type":"quantitative","scale":{"domain":[0,1700],"nice":false},"axis":{"title":"Specific capacity(mAh/g)","titleFontSize":12,"format":"d","tickCount":20,"values":[0,300,600,900,1200,1500]}},
      "color":{"field":"s","type":"nominal","scale":{"domain":["VN","3VN"],"range":["#ee2a2a","#111111"]},
        "legend":{"title":null,"orient":"none","legendX":28,"legendY":4,"symbolType":"M-2,0H2M-0.5,0A0.5,0.5,0,1,1,0.5,0A0.5,0.5,0,1,1,-0.5,0","symbolSize":100,"symbolStrokeWidth":1.4,"labelOffset":9,"rowPadding":0,"labelExpr":"datum.value == 'VN' ? 'S/TiN-VN@CNFs || Li/TiN-VN@CNFs' : 'S/TiN-3VN@CNFs || Li/TiN-3VN@CNFs'"}}}},
    {"data":{"name":"cData"},"mark":{"type":"point","filled":false,"size":30,"strokeWidth":1.6},
     "encoding":{"x":{"field":"c","type":"quantitative"},"y":{"field":"v","type":"quantitative"},"color":{"field":"s","type":"nominal"}}},
    {"data":{"name":"cText"},"mark":{"type":"text","fontSize":10,"fontWeight":"bold","color":"black"},
     "encoding":{"x":{"field":"c","type":"quantitative"},"y":{"field":"v","type":"quantitative"},"text":{"field":"t"}}}
   ]
  }
 ],"spacing":11,
 "resolve":{"scale":{"color":"independent","stroke":"independent"},"legend":{"color":"independent"}}},
 {"hconcat":[
  {"width":450,"height":143,
   "title":{"text":"d","offset":-16},
   "layer":[
    {"layer":[
      {"data":{"name":"dCap"},"mark":{"type":"point","filled":false,"size":26,"strokeWidth":1},
       "encoding":{
        "x":{"field":"c","type":"quantitative","scale":{"domain":[0,600],"nice":false},"axis":{"title":"Cycle number","tickCount":40,"format":"d","values":[0,50,100,150,200,250,300,350,400,450,500,550,600],"labelExpr":"datum.value % 100 == 0 ? datum.label : ''"}},
        "y":{"field":"v","type":"quantitative","scale":{"domain":[0,1500],"nice":false},"axis":{"title":"Specific capacity(mAh/g)","titleFontSize":12.5,"titlePadding":0,"format":"d","tickCount":20,"values":[0,300,600,900,1200,1500]}},
        "color":{"field":"s","type":"nominal","scale":{"domain":["VN","Bare"],"range":["#ee2e2e","#1a1a1a"]},
          "legend":{"title":null,"orient":"none","legendX":22,"legendY":96,"labelFontSize":12,"symbolType":"M-2,0H2M-0.55,0A0.55,0.55,0,1,1,0.55,0A0.55,0.55,0,1,1,-0.55,0","symbolSize":144,"symbolStrokeWidth":1.6,"labelOffset":10,"rowPadding":0,"labelExpr":"datum.value == 'VN' ? 'S/TiN-VN@CNFs || Li/TiN-VN@CNFs' : 'S/TiN-VN@CNFs || Bare Li'"}}}},
      {"data":{"name":"dText"},"mark":{"type":"text","fontSize":11,"fontWeight":"bold","color":"black"},
       "encoding":{"x":{"field":"c","type":"quantitative"},"y":{"field":"v","type":"quantitative"},"text":{"field":"t"}}}
    ]},
    {"data":{"name":"dCE"},"mark":{"type":"point","filled":false,"size":24,"strokeWidth":0.9},
     "encoding":{"x":{"field":"c","type":"quantitative"},
      "y":{"field":"v","type":"quantitative","scale":{"domain":[0,110],"nice":false},"axis":{"orient":"right","title":"Coulombic efficiency (%)","titlePadding":4,"format":"d","tickCount":20,"values":[0,20,40,60,80,100],"domainColor":"#3a3aa8","tickColor":"#3a3aa8","labelColor":"#3a3aa8","titleColor":"#3a3aa8"}},
      "stroke":{"field":"s","type":"nominal","scale":{"domain":["VN","Bare"],"range":["#f04a4a","#555555"]},"legend":null}}}
   ],
   "resolve":{"scale":{"y":"independent"}}
  },
  {"width":210,"height":146,
   "title":{"text":"e","offset":-16,"dx":-14},
   "layer":[
    {"layer":[
      {"data":{"name":"eCap"},"mark":{"type":"line","strokeWidth":1.2},
       "encoding":{
        "x":{"field":"c","type":"quantitative","scale":{"domain":[0,100],"nice":false},"axis":{"title":"Cycle number","tickCount":20,"format":"d","values":[0,20,40,60,80,100]}},
        "y":{"field":"v","type":"quantitative","scale":{"domain":[0,8],"nice":false},"axis":{"title":"Areal capacity(mAh cm⁻²)","titleFontSize":12,"format":"d","tickCount":20,"values":[0,2,4,6,8]}},
        "color":{"field":"s","type":"nominal","scale":{"domain":["VN"],"range":["#ee3a3a"]},
          "legend":{"title":null,"orient":"none","legendX":6,"legendY":98,"symbolType":"M-2,0H2M-0.5,0A0.5,0.5,0,1,1,0.5,0A0.5,0.5,0,1,1,-0.5,0","symbolSize":100,"symbolStrokeWidth":1.4,"labelOffset":9,"labelExpr":"'S/TiN-VN@CNFs || Li/TiN-VN@CNFs'"}}}},
      {"data":{"name":"eCap"},"mark":{"type":"point","filled":false,"size":18,"strokeWidth":1},
       "encoding":{"x":{"field":"c","type":"quantitative"},"y":{"field":"v","type":"quantitative"},"color":{"field":"s","type":"nominal"}}},
      {"data":{"name":"eText"},"mark":{"type":"text","fontSize":9.5,"fontWeight":"bold","color":"black","align":"right"},
       "encoding":{"x":{"field":"c","type":"quantitative"},"y":{"field":"v","type":"quantitative"},"text":{"field":"t"}}}
    ]},
    {"data":{"name":"eCE"},"mark":{"type":"point","filled":false,"size":16,"strokeWidth":0.8,"color":"#7373d8"},
     "encoding":{"x":{"field":"c","type":"quantitative"},
      "y":{"field":"v","type":"quantitative","scale":{"domain":[0,110],"nice":false},"axis":{"orient":"right","title":"Coulombic efficiency (%)","titleFontSize":12,"titlePadding":2,"format":"d","tickCount":20,"values":[0,20,40,60,80,100],"domainColor":"#3a3aa8","tickColor":"#3a3aa8","labelColor":"#3a3aa8","titleColor":"#3a3aa8"}}}}
   ],
   "resolve":{"scale":{"y":"independent"}}
  }
 ],"spacing":11,
 "resolve":{"scale":{"color":"independent","stroke":"independent"},"legend":{"color":"independent"}}}
],
"spacing":5,
"resolve":{"scale":{"color":"independent","stroke":"independent"},"legend":{"color":"independent"}}
}
